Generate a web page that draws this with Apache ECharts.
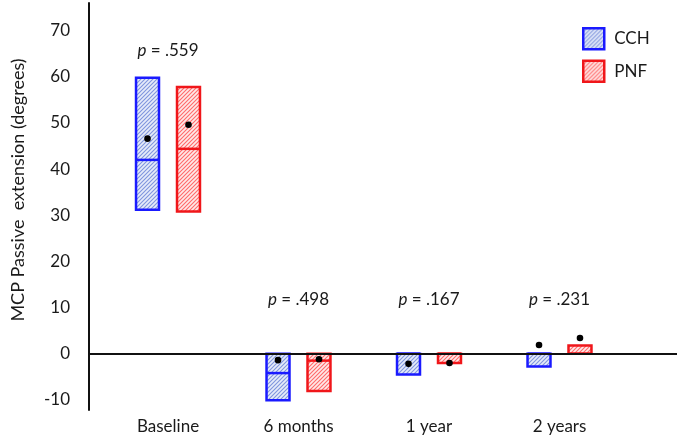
<!DOCTYPE html>
<html><head><meta charset="utf-8">
<script src="https://cdn.jsdelivr.net/npm/echarts@6/dist/echarts.min.js"></script>
<style>html,body{margin:0;padding:0;background:#fff}#c{width:680px;height:439px}</style>
</head><body><div id="c"></div>
<script>
const categories = ['Baseline', '6 months', '1 year', '2 years'];
const cchQ1     = [31.2, -10.1, -4.5, -2.8];
const cchMedian = [42.0, -4.2, 0, 0];
const cchQ3     = [59.8, 0, 0, 0];
const cchMean   = [46.6, -1.4, -2.2, 1.9];
const pnfQ1     = [30.8, -8.1, -2.0, 0];
const pnfMedian = [44.4, -1.5, 0, 0];
const pnfQ3     = [57.8, 0, 0, 1.8];
const pnfMean   = [49.6, -1.2, -2.0, 3.4];
const pValues   = ['.559', '.498', '.167', '.231'];
const pLabelLevel = [65.8, 11.7, 11.7, 11.7];
const yTicks = [-10, 0, 10, 20, 30, 40, 50, 60, 70];

const FONT = 'Lato';
const FS = 17;
const TXT = '#1a1a1a';
const BLUE = '#1a1aff', RED = '#f0161a';

function makePattern(stripe, bg) {
  const s = 4;
  const c = document.createElement('canvas');
  c.width = s; c.height = s;
  const ctx = c.getContext('2d');
  ctx.fillStyle = bg; ctx.fillRect(0, 0, s, s);
  ctx.strokeStyle = stripe; ctx.lineWidth = 1.1;
  ctx.beginPath();
  ctx.moveTo(-1, s + 1); ctx.lineTo(s + 1, -1);
  ctx.moveTo(-1, 1); ctx.lineTo(1, -1);
  ctx.moveTo(s - 1, s + 1); ctx.lineTo(s + 1, s - 1);
  ctx.stroke();
  return { image: c, repeat: 'repeat' };
}
const bluePat = makePattern('#7f95dd', '#e6ecfa');
const redPat = makePattern('#ff6a6a', '#ffe9e9');

function buildData(q1, med, q3, mean) {
  return categories.map((c, i) => [i, q1[i], med[i], q3[i], mean[i]]);
}

function boxSeries(name, data, side, color, pat) {
  return {
    name: name,
    type: 'custom',
    itemStyle: { color: pat, borderColor: color, borderWidth: 2.5 },
    data: data,
    z: 3,
    renderItem: function (params, api) {
      const i = api.value(0);
      const band = api.size([1, 0])[0];
      const cx = api.coord([i, 0])[0] + side * band * 0.157;
      const w = band * 0.176;
      const yLo = api.coord([i, api.value(1)])[1];
      const yMed = api.coord([i, api.value(2)])[1];
      const yHi = api.coord([i, api.value(3)])[1];
      const yMean = api.coord([i, api.value(4)])[1];
      return {
        type: 'group',
        children: [
          { type: 'rect', shape: { x: cx - w / 2, y: yHi, width: w, height: yLo - yHi },
            style: { fill: pat, stroke: color, lineWidth: 2.5 } },
          { type: 'line', shape: { x1: cx - w / 2, y1: yMed, x2: cx + w / 2, y2: yMed },
            style: { stroke: color, lineWidth: 2.5 } },
          { type: 'circle', shape: { cx: cx, cy: yMean, r: 3.3 },
            style: { fill: '#000' }, z2: 10 }
        ]
      };
    }
  };
}

const chart = echarts.init(document.getElementById('c'), null, { renderer: 'canvas' });
chart.setOption({
  animation: false,
  backgroundColor: '#fff',
  grid: { left: 89, right: 3, top: 3, bottom: 29, containLabel: false },
  xAxis: {
    type: 'value', min: -0.6054, max: 3.9004,
    axisLine: { show: false }, axisTick: { show: false }, splitLine: { show: false },
    axisLabel: {
      customValues: [0, 1, 2, 3],
      formatter: v => categories[Math.round(v)],
      fontFamily: FONT, fontSize: FS, color: TXT, margin: 8
    }
  },
  yAxis: {
    type: 'value', min: -12.2, max: 76,
    axisLine: { show: true, onZero: false, lineStyle: { color: '#111', width: 2 } },
    axisTick: { show: false }, splitLine: { show: false },
    axisLabel: { customValues: yTicks, fontFamily: FONT, fontSize: FS, color: TXT, margin: 19 }
  },
  legend: {
    orient: 'vertical', left: 577, top: 22, itemWidth: 21, itemHeight: 21, itemGap: 9,
    icon: 'rect',
    textStyle: { fontFamily: FONT, fontSize: FS, color: TXT, padding: [0, 0, 0, 5] },
    data: [
      { name: 'CCH', itemStyle: { color: bluePat, borderColor: BLUE, borderWidth: 2.5 } },
      { name: 'PNF', itemStyle: { color: redPat, borderColor: RED, borderWidth: 2.5 } }
    ]
  },
  graphic: [{
    type: 'text', x: 18, y: 190, rotation: Math.PI / 2,
    style: { text: 'MCP Passive  extension (degrees)', font: '18px ' + FONT, fill: TXT,
             align: 'center', verticalAlign: 'middle' }
  }],
  series: [
    boxSeries('CCH', buildData(cchQ1, cchMedian, cchQ3, cchMean), -1, BLUE, bluePat),
    boxSeries('PNF', buildData(pnfQ1, pnfMedian, pnfQ3, pnfMean), 1, RED, redPat),
    {
      type: 'scatter', symbolSize: 0, silent: true,
      itemStyle: { opacity: 1 },
      data: categories.map((c, i) => [i, pLabelLevel[i]]),
      label: {
        show: true, position: 'inside', opacity: 1,
        formatter: p => '{i|p} = ' + pValues[p.dataIndex],
        fontFamily: FONT, fontSize: FS, color: TXT,
        rich: { i: { fontStyle: 'italic', fontFamily: FONT, fontSize: FS, color: TXT } }
      },
      markLine: {
        silent: true, symbol: 'none', label: { show: false },
        lineStyle: { color: '#111', width: 2, type: 'solid' },
        data: [{ yAxis: 0 }]
      }
    }
  ]
});
</script></body></html>
